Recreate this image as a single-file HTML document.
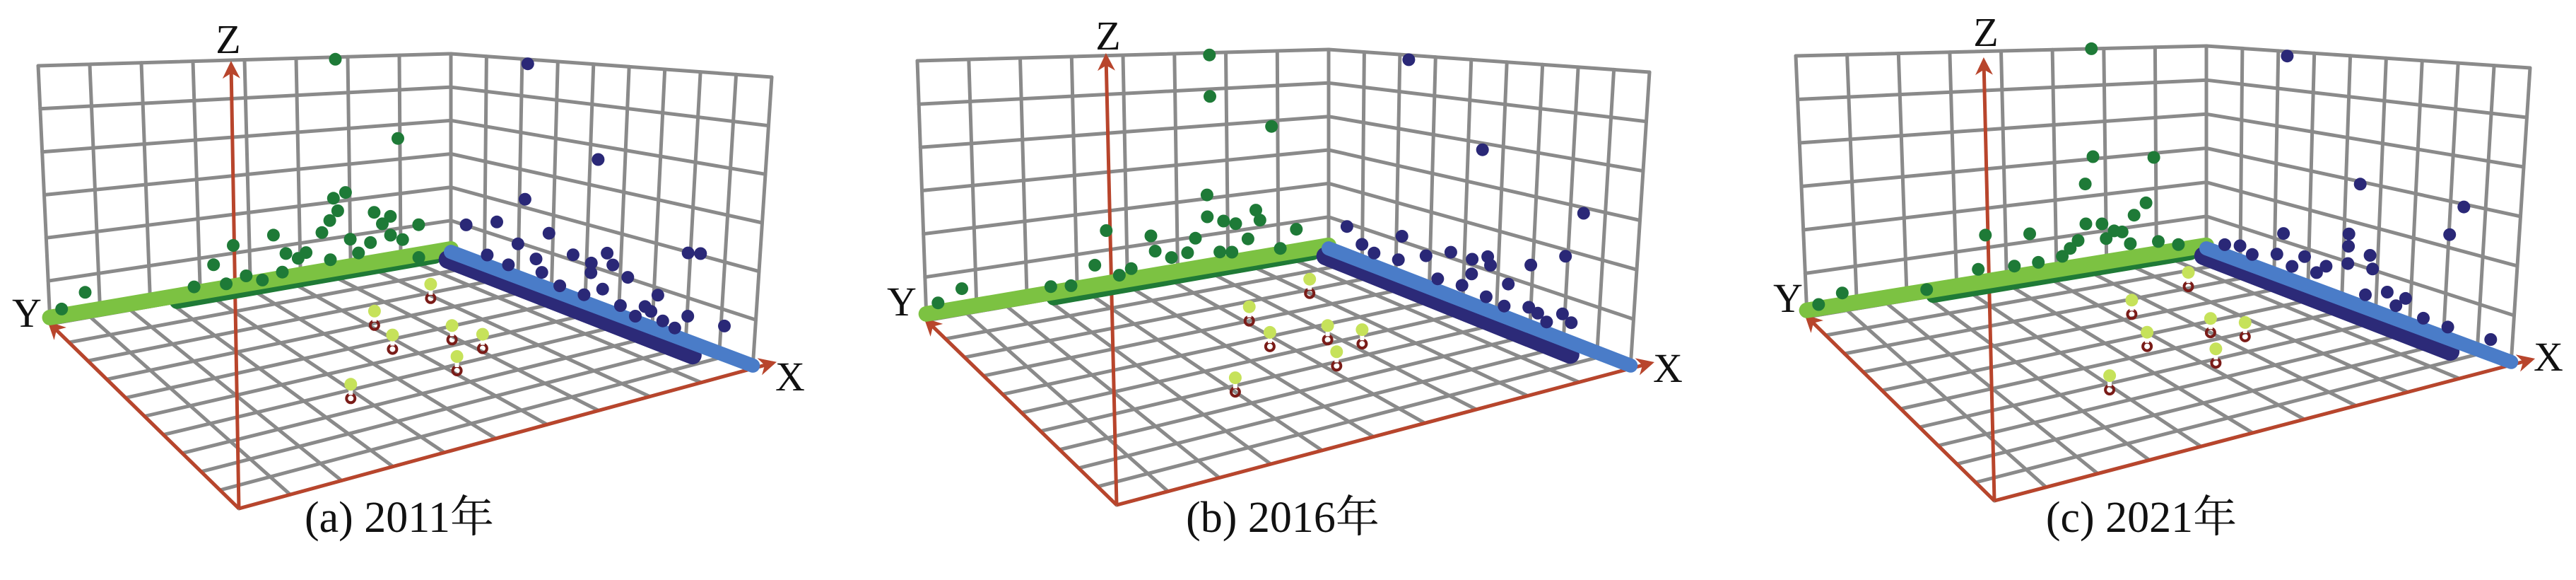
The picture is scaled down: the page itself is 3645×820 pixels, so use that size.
<!DOCTYPE html>
<html><head><meta charset="utf-8">
<style>
html,body{margin:0;padding:0;background:#fff;}
svg{display:block;}
text{font-family:"Liberation Serif","Noto Serif CJK SC",serif;fill:#111;}
</style></head>
<body>
<svg id="chart" width="3645" height="820" viewBox="0 0 3645 820" xmlns="http://www.w3.org/2000/svg"></svg>
<script>
// ---------- Data (wall position t 0..1, height h 0..1; floor a along X, b along Y) ----------
const captions = ["(a) 2011年", "(b) 2016年", "(c) 2021年"];
const a_greenT = [.72,.87,.71,.74,.72,.70,.81,.85,.83,.75,.92,.62,.56,.59,.41,.46,.09,.03,.68,.88,.80,.53,.36,.85,.92,.64,.77,.70,.58,.49,.44];
const a_greenH = [.99,.60,.35,.37,.29,.25,.26,.23,.20,.15,.17,.10,.22,.13,.13,.20,.10,.05,.20,.11,.12,.03,.05,.14,.01,.12,.08,.07,.05,.06,.04];
const a_blueT = [.24,.47,.24,.15,.05,.32,.22,.28,.40,.46,.51,.53,.46,.58,.77,.81,.68,.64,.78,.90,.70,.74,.36,.44,.56,.61,.19,.12,.30,.50,.66];
const a_blueH = [.98,.61,.37,.23,.17,.25,.16,.12,.19,.18,.24,.20,.14,.17,.33,.34,.14,.08,.10,.11,.05,.04,.04,.04,.05,.03,.05,.06,.07,.09,.07];
const a_pinA = [.23,.31,.45,.47,.55,.63,.64];
const a_pinB = [.21,.39,.43,.31,.29,.39,.62];

const b_greenT = [.71,.86,.71,.70,.70,.74,.77,.82,.83,.45,.56,.65,.92,.42,.51,.57,.09,.03,.31,.67,.80,.73,.61,.76,.88,.48,.36];
const b_greenH = [.99,.64,.80,.35,.25,.22,.20,.25,.20,.25,.20,.10,.13,.11,.07,.13,.10,.06,.05,.16,.12,.08,.09,.07,.05,.05,.04];
const b_blueT = [.25,.49,.82,.77,.06,.24,.11,.15,.32,.23,.40,.47,.52,.47,.53,.66,.59,.52,.77,.69,.80,.66,.36,.44,.58,.72];
const b_blueH = [.98,.64,.48,.31,.15,.19,.09,.07,.14,.08,.19,.19,.22,.13,.19,.24,.14,.06,.10,.07,.08,.08,.06,.07,.05,.05];
const b_pinA = [.22,.30,.45,.48,.54,.62,.63];
const b_pinB = [.20,.39,.43,.32,.28,.38,.60];

const c_greenT = [.72,.72,.87,.70,.85,.82,.70,.74,.77,.45,.56,.68,.81,.43,.30,.52,.09,.03,.58,.64,.93,.75,.79,.66,.88];
const c_greenH = [1.0,.51,.48,.39,.27,.22,.21,.20,.16,.22,.20,.14,.09,.08,.03,.07,.07,.04,.07,.08,.05,.13,.15,.11,.08];
const c_blueT = [.25,.49,.82,.78,.25,.46,.46,.46,.06,.11,.15,.23,.32,.39,.53,.54,.59,.65,.71,.93,.79,.52,.28,.36,.62];
const c_blueH = [.98,.49,.49,.38,.20,.28,.23,.16,.06,.08,.06,.10,.13,.12,.22,.17,.10,.10,.05,.06,.05,.06,.07,.08,.06];
const c_pinA = [.28,.46,.46,.52,.62,.63,.19];
const c_pinB = [.37,.44,.30,.26,.38,.61,.18];

// ---------- Geometry per panel (layout, not data) ----------
const panels = [
 {ox:0,    TL:[54,93], BL:[71,458], CT:[638,76], CB:[638,359], TR:[1092,109], BR:[1065,521], O:[338,719], Z:[327,91], ZL:[323,75], YL:[38,462], XL:[1118,552], cap:[565,752],
  gT:a_greenT,gH:a_greenH,bT:a_blueT,bH:a_blueH,pA:a_pinA,pB:a_pinB},
 {ox:1230, TL:[68,86], BL:[81,453], CT:[650,70], CB:[650,354], TR:[1104,102], BR:[1077,521], O:[350,714], Z:[335,80], ZL:[338,70], YL:[46,446], XL:[1130,540], cap:[585,752],
  gT:b_greenT,gH:b_greenH,bT:b_blueT,bH:b_blueH,pA:b_pinA,pB:b_pinB},
 {ox:2445, TL:[96,79], BL:[112,448], CT:[677,65], CB:[677,354], TR:[1135,96], BR:[1108,516], O:[377,708], Z:[362,86], ZL:[365,65], YL:[85,441], XL:[1161,524], cap:[585,752],
  gT:c_greenT,gH:c_greenH,bT:c_blueT,bH:c_blueH,pA:c_pinA,pB:c_pinB}
];

const NS = "http://www.w3.org/2000/svg";
const svg = document.getElementById('chart');
function el(tag, attrs, parent){ const e=document.createElementNS(NS,tag); for(const k in attrs) e.setAttribute(k,attrs[k]); (parent||svg).appendChild(e); return e; }
function lerp(p,q,t){ return [p[0]+(q[0]-p[0])*t, p[1]+(q[1]-p[1])*t]; }

const defs = el('defs',{});
const mk = el('marker',{id:'arr',viewBox:'0 0 10 10',refX:'8',refY:'5',markerWidth:'5',markerHeight:'5',orient:'auto',markerUnits:'strokeWidth'},defs);
el('path',{d:'M0,0 L10,5 L0,10 L3,5 Z',fill:'#b8452c'},mk);

panels.forEach((P,pi)=>{
  const g = el('g',{transform:`translate(${P.ox},0)`});
  
  
  const leftWall=(t,h)=>lerp(lerp(P.BL,P.CB,t), lerp(P.TL,P.CT,t), h);
  const rightWall=(t,h)=>lerp(lerp(P.CB,P.BR,t), lerp(P.CT,P.TR,t), h);
  const floor=(a,b)=>lerp(lerp(P.CB,P.BR,a), lerp(P.BL,P.O,a), b);
  const grid = el('g',{stroke:'#8a8a8a','stroke-width':5,fill:'none','stroke-linecap':'round'},g);
  
  
  const line=(p,q,par)=>el('line',{x1:p[0].toFixed(1),y1:p[1].toFixed(1),x2:q[0].toFixed(1),y2:q[1].toFixed(1)},par);
  for(let i=0;i<=10;i++){ line(floor(i/10,0),floor(i/10,1),grid); line(floor(0,i/10),floor(1,i/10),grid); }
  for(let i=0;i<=8;i++) line(leftWall(i/8,0),leftWall(i/8,1),grid);
  for(let j=0;j<=6;j++) line(leftWall(0,j/6),leftWall(1,j/6),grid);
  for(let i=0;i<=9;i++) line(rightWall(i/9,0),rightWall(i/9,1),grid);
  for(let j=0;j<=6;j++) line(rightWall(0,j/6),rightWall(1,j/6),grid);

  const ax = el('g',{stroke:'#b8452c','stroke-width':5,fill:'none'},g);
  
  
  el('line',{x1:P.O[0],y1:P.O[1],x2:P.Z[0],y2:P.Z[1],'marker-end':'url(#arr)'},ax);
  el('line',{x1:P.O[0],y1:P.O[1],x2:P.BL[0],y2:P.BL[1],'marker-end':'url(#arr)'},ax);
  const xt = lerp(P.O,P.BR,1.04);
  el('line',{x1:P.O[0],y1:P.O[1],x2:xt[0],y2:xt[1],'marker-end':'url(#arr)'},ax);

  const band=(fn,t0,t1,h,col,w,name)=>{
    const p0=fn(t0,h), p1=fn(t1,h);
    const b=el('line',{x1:p0[0],y1:p0[1],x2:p1[0],y2:p1[1],stroke:col,'stroke-width':w,'stroke-linecap':'round'},g);
    
    
  };
  band((t,h)=>lerp(leftWall(t,0),floor(0,t),0.04),0.3,1,0,'#1f7a36',20,'green-dense-band');
  band(leftWall,0,1,0.025,'#7cc242',22,'green-line-band');
  band((t,h)=>floor(t,0.03),0.03,0.85,0,'#2c2a78',26,'navy-dense-band');
  band(rightWall,0,1,0.01,'#4a7cc8',20,'blue-line-band');

  P.gT.forEach((t,i)=>{ const p=leftWall(t,P.gH[i]);
    const c=el('circle',{cx:p[0].toFixed(1),cy:p[1].toFixed(1),r:9,fill:'#1e7a37'},g);
    
    
  });
  P.bT.forEach((t,i)=>{ const p=rightWall(t,P.bH[i]);
    const c=el('circle',{cx:p[0].toFixed(1),cy:p[1].toFixed(1),r:9,fill:'#2a2877'},g);
    
    
  });
  P.pA.forEach((a,i)=>{ const p=floor(a,P.pB[i]);
    const pg=el('g',{},g);
    
    
    el('circle',{cx:p[0].toFixed(1),cy:p[1].toFixed(1),r:6,fill:'none',stroke:'#7a1c18','stroke-width':4},pg);
    el('line',{x1:p[0],y1:p[1]-5,x2:p[0],y2:p[1]-18,stroke:'#fff','stroke-width':6},pg);
    el('circle',{cx:p[0].toFixed(1),cy:(p[1]-20).toFixed(1),r:9,fill:'#c6e25a'},pg);
  });

  const lab=(txt,pos,size,name)=>{ const t=el('text',{x:pos[0],y:pos[1],'font-size':size,'text-anchor':'middle'},g); t.textContent=txt;
      };
  lab('Z',P.ZL,58,'z-axis-label');
  lab('Y',P.YL,58,'y-axis-label');
  lab('X',P.XL,58,'x-axis-label');
  lab(captions[pi],P.cap,62,'panel-caption');
});
</script>
</body></html>
